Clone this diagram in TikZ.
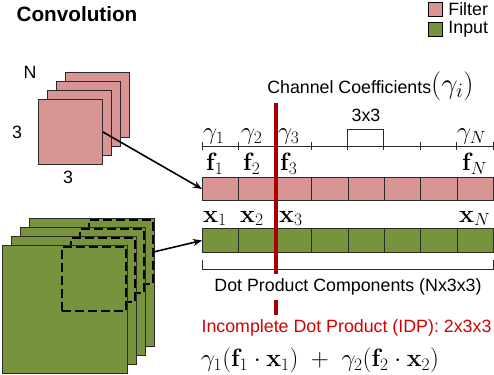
\RequirePackage{fix-cm}
\documentclass[tikz,border=0pt]{standalone}
\usepackage{amsmath}
\usepackage[no-math]{fontspec}
\setmainfont{Liberation Sans}
\usetikzlibrary{arrows.meta,calc}
\definecolor{pinkf}{HTML}{D99594}
\definecolor{greeni}{HTML}{77933C}
\definecolor{darkred}{HTML}{A80000}
\definecolor{brightred}{HTML}{D40000}
\definecolor{edge}{HTML}{2A2A2A}
\begin{document}
\begin{tikzpicture}[x=1pt,y=-1pt,
  txt/.style={font=\fontsize{17.8}{21}\selectfont, inner sep=0pt},
  mth/.style={font=\fontsize{25}{30}\selectfont, inner sep=0pt},
  fsq/.style={draw=edge, line width=0.9pt, fill=pinkf, minimum width=64pt, minimum height=65pt, inner sep=0pt, anchor=north west},
  isq/.style={draw=edge, line width=0.9pt, fill=greeni, minimum width=125pt, minimum height=128pt, inner sep=0pt, anchor=north west},
  dsq/.style={draw=black, line width=1.8pt, dash pattern=on 9pt off 4pt, minimum width=64pt, minimum height=64pt, inner sep=0pt, anchor=north east},
  fcell/.style={draw=edge, line width=0.9pt, fill=pinkf, minimum width=36.375pt, minimum height=23pt, inner sep=0pt, anchor=north west},
  icell/.style={draw=edge, line width=0.9pt, fill=greeni, minimum width=36.375pt, minimum height=24pt, inner sep=0pt, anchor=north west},
  arr/.style={-{Stealth[length=9pt,width=7pt]}, line width=1.6pt, black},
  rule/.style={draw=edge, line width=0.9pt},
  legbox/.style={draw=black, line width=1.2pt, minimum width=14pt, minimum height=14pt, inner sep=0pt, anchor=north west}
]
\useasboundingbox (0,0) rectangle (494,374);

% title
\node[font=\fontsize{20.7}{24}\selectfont\bfseries, inner sep=0pt] (title) at (77,14) {Convolution};

% legend
\node[legbox, fill=pinkf] (lf) at (428,2) {};
\node[txt, anchor=west] (lft) at ($(lf.east)+(5,0)$) {Filter};
\node[legbox, fill=greeni] (li) at (428,22) {};
\node[txt, anchor=west] (lit) at ($(li.east)+(5,0)$) {Input};

% filter stack
\node[fsq] (fs4) at (65,72) {};
\node[fsq] (fs3) at (56,81) {};
\node[fsq] (fs2) at (47,90) {};
\node[fsq] (fs1) at (38,99) {};
\node[txt] (lN) at (30,72) {N};
\node[txt] (l3a) at (17,132) {3};
\node[txt] (l3b) at (68,177) {3};

% input stack
\node[isq] (is4) at (29,218) {};
\node[dsq] (ds4) at ($(is4.north east)+(-1,1)$) {};
\node[isq] (is3) at (20,227) {};
\node[dsq] (ds3) at ($(is3.north east)+(-1,1)$) {};
\node[isq] (is2) at (11,236) {};
\node[dsq] (ds2) at ($(is2.north east)+(-1,1)$) {};
\node[isq] (is1) at (2,245) {};
\node[dsq] (ds1) at ($(is1.north east)+(-1,1)$) {};

% rows
\foreach \i in {1,...,8}{
  \node[fcell] (f\i) at ({202+(\i-1)*36.375},177) {};
  \node[icell] (c\i) at ({202+(\i-1)*36.375},228) {};
}

% tick line
\coordinate (tl) at (202,146);
\coordinate (tr) at (493,146);
\draw[rule] (tl) -- (tr);
\foreach \i in {0,...,8}{
  \draw[rule] ({202+\i*36.375},142) -- ({202+\i*36.375},150);
}
% 3x3 bracket
\coordinate (b1) at (347.5,142);
\coordinate (b2) at (383.9,142);
\draw[rule] (b1) -- ++(0,-13) -| (b2);
\node[txt] (l33) at (366,115) {3x3};

% gamma labels
\node[mth, anchor=south west] (g1) at (203,145) {$\gamma_1$};
\node[mth, anchor=south west] (g2) at (241,145) {$\gamma_2$};
\node[mth, anchor=south west] (g3) at (278,145) {$\gamma_3$};
\node[mth, anchor=south west] (gN) at (457,145) {$\gamma_N$};
% f labels
\node[mth, anchor=north west] (lf1) at (206,153) {$\mathbf{f}_1$};
\node[mth, anchor=north west] (lf2) at (243,153) {$\mathbf{f}_2$};
\node[mth, anchor=north west] (lf3) at (280,153) {$\mathbf{f}_3$};
\node[mth, anchor=north west] (lfN) at (462,153) {$\mathbf{f}_N$};
% x labels
\node[mth, anchor=south west] (x1) at (203,226) {$\mathbf{x}_1$};
\node[mth, anchor=south west] (x2) at (240,226) {$\mathbf{x}_2$};
\node[mth, anchor=south west] (x3) at (279,226) {$\mathbf{x}_3$};
\node[mth, anchor=south west] (xN) at (459,226) {$\mathbf{x}_N$};

\node[txt] (cc) at (370.5,86) {Channel Coefficients\fontsize{29}{34}\selectfont$(\gamma_i)$};

% bottom bracket
\coordinate (bb1) at (202,260);
\coordinate (bb2) at (493,260);
\draw[rule] (bb1) -- ++(0,9) -| (bb2);

% red line
\coordinate (rt) at (276,103);
\coordinate (rb) at (276,315);
\draw[darkred, line width=3.5pt] (rt) -- (rb);

\node[txt, fill=white, inner xsep=2pt, inner ysep=5pt] (dpc) at (348,287) {Dot Product Components (Nx3x3)};
\node[txt, text=brightred] (idp) at (346.5,328) {Incomplete Dot Product (IDP): 2x3x3};
\node[mth] (form) at (320,360) {$\gamma_1(\mathbf{f}_1\cdot\mathbf{x}_1)\;+\;\gamma_2(\mathbf{f}_2\cdot\mathbf{x}_2)$};

% arrows
\draw[arr] (fs1.east) -- (f1.west);
\draw[arr] (ds4.east) -- (c1.west);
\end{tikzpicture}
\end{document}
